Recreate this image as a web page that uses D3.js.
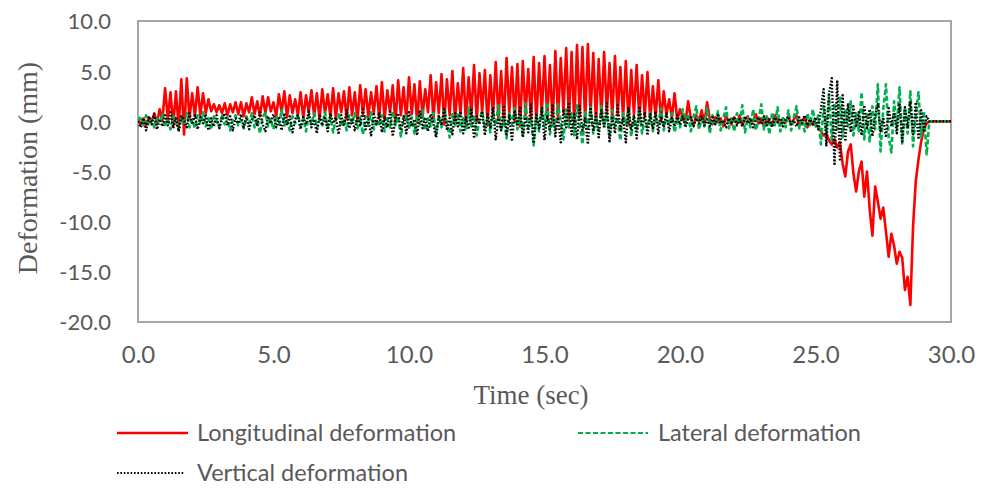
<!DOCTYPE html>
<html>
<head>
<meta charset="utf-8">
<script src="https://cdn.jsdelivr.net/npm/d3@7"></script>
<style>
  html, body { margin: 0; padding: 0; background: #ffffff; }
  svg { display: block; }
</style>
</head>
<body>
<svg id="chart" width="988" height="488"></svg>
<script>
// Sampling interval of the recorded signals (seconds)
const sampleStep = 0.1;

// Longitudinal deformation (mm), one value every 0.1 s from 0.0 to 30.0 s
const longitudinal = [
  0.2,-0.3,0.3,-0.4,0.4,0.0,0.8,-0.2,1.2,0.1,
  3.3,0.2,2.9,-0.5,3.0,-0.6,4.2,-1.3,4.3,0.3,
  2.8,0.5,3.4,0.6,2.8,0.8,2.2,1.0,1.7,0.9,
  1.6,0.8,1.8,0.6,1.7,0.9,1.9,0.7,1.9,0.5,
  1.8,0.9,2.4,0.7,2.0,0.5,2.5,0.8,2.4,1.0,
  1.9,0.5,2.7,0.9,3.0,0.4,2.6,0.8,2.2,0.6,
  2.9,0.3,2.6,0.9,3.1,0.5,2.8,0.2,3.2,0.8,
  2.7,0.4,3.3,0.3,2.8,0.9,3.0,0.2,3.4,0.6,
  2.9,0.1,3.6,0.7,3.2,0.4,2.9,0.8,3.5,0.3,
  3.9,0.2,3.1,0.9,3.6,-0.2,4.1,0.6,3.4,0.1,
  4.4,0.7,3.7,-0.1,4.0,0.5,3.2,0.9,4.6,0.2,
  3.9,0.8,4.7,-0.3,4.2,0.6,5.0,0.1,3.8,0.7,
  5.3,-0.2,4.4,0.6,5.6,0.0,4.8,0.9,5.1,-0.4,
  4.6,0.5,5.9,0.2,5.0,-0.3,6.3,0.8,5.4,0.0,
  5.7,-0.5,6.0,0.6,5.2,0.1,6.4,-0.2,5.8,0.7,
  6.5,0.3,5.6,-0.4,7.0,0.2,6.3,0.9,7.3,0.1,
  6.9,-0.3,7.6,0.5,7.4,0.0,7.7,0.6,6.8,-0.2,
  6.2,0.4,6.9,0.8,5.8,0.2,6.5,0.6,5.4,0.3,
  6.0,-0.3,5.1,0.7,5.6,0.1,4.6,0.5,4.9,0.2,
  3.5,0.4,4.1,0.0,3.0,0.6,2.2,0.3,2.8,0.1,
  1.2,0.4,-0.2,2.0,0.3,-0.4,0.6,0.0,1.1,-0.2,
  1.9,0.2,-0.3,0.4,-0.1,0.3,-0.5,0.5,0.0,-0.3,
  0.4,-0.2,0.6,-0.4,0.2,0.5,-0.3,0.1,0.7,-0.2,
  0.3,-0.5,0.4,0.0,-0.3,0.6,0.1,-0.4,0.3,-0.1,
  0.5,-0.3,0.2,0.6,-0.5,0.1,0.4,-0.6,0.2,-0.3,
  -0.3,-0.6,-1.0,-1.4,-1.2,-1.9,-2.3,-1.8,-2.6,-2.1,
  -4.2,-5.5,-3.0,-2.3,-5.2,-7.0,-5.0,-4.0,-7.5,-5.0,
  -8.8,-11.4,-6.5,-8.0,-9.7,-8.6,-11.0,-13.5,-11.2,-12.4,
  -14.2,-13.0,-13.6,-16.8,-15.5,-18.3,-10.5,-6.0,-3.8,-2.0,
  -0.8,-0.2,0.0,0.0,0.0,0.0,0.0,0.0,0.0,0.0,
  0.0
];

// Lateral deformation (mm)
const lateral = [
  0.0,0.5,-0.4,0.6,-0.3,0.2,-0.6,0.4,-0.2,0.7,
  -0.5,0.3,-0.8,0.5,0.1,-0.9,0.4,-0.3,0.8,-0.6,
  0.2,-0.7,0.6,-0.2,0.9,-0.5,0.3,-0.8,0.5,0.0,
  -0.6,0.7,-0.3,0.4,-0.9,0.2,0.6,-0.4,0.1,-0.7,
  0.5,-0.2,0.8,-0.6,0.3,-1.2,0.4,0.9,-0.5,0.2,
  -0.8,0.6,-0.3,1.1,-0.4,0.2,-0.9,0.5,-0.2,0.7,
  -0.5,0.3,-1.0,0.6,-0.3,0.8,-0.7,0.2,-0.4,0.9,
  -0.6,0.4,-1.1,0.2,0.7,-0.5,0.3,-0.9,0.6,-0.2,
  0.8,-0.7,0.4,-1.3,0.5,-0.3,0.9,-0.8,0.2,-0.5,
  0.6,-1.0,0.3,-0.6,1.0,-0.4,0.5,-1.5,0.2,0.7,
  -0.8,0.4,-1.2,0.6,-0.3,1.1,-0.9,0.3,-0.5,0.8,
  -1.3,0.5,-0.6,1.2,-0.2,-1.6,0.7,-0.4,0.9,-1.0,
  0.3,-0.8,1.4,-0.5,0.6,-1.4,0.2,1.0,-0.7,0.4,
  -1.1,0.8,-0.4,1.6,-0.9,0.3,-1.7,0.9,-0.3,1.3,
  -0.8,0.5,-1.5,1.8,-0.6,0.2,-2.4,0.7,-1.0,1.5,
  -0.5,1.9,-1.3,0.4,-0.8,1.7,-0.2,-1.8,1.2,-0.6,
  0.8,-1.4,1.6,-0.3,-2.3,0.9,-0.7,1.4,-1.2,0.3,
  -0.9,1.5,-0.4,0.7,-1.6,1.1,-0.5,0.4,-1.9,0.8,
  -0.3,1.2,-1.5,0.5,-0.8,1.0,-1.2,0.2,-0.6,0.9,
  -1.0,0.4,-0.3,1.3,-0.9,0.6,-0.4,0.8,-1.1,0.3,
  -0.6,1.2,-0.3,0.7,-1.0,0.4,1.5,-0.8,0.2,-0.5,
  1.3,-1.2,0.6,-0.4,1.0,-0.9,0.3,1.4,-0.7,0.5,
  -1.0,0.8,-0.3,1.6,-1.1,0.4,-0.6,1.2,-0.9,0.2,
  1.7,-0.8,0.5,-1.3,0.9,-0.4,1.4,-1.0,0.3,-0.6,
  1.1,-0.9,0.4,1.5,-0.7,0.2,-1.0,0.8,-0.4,1.2,
  -0.5,0.6,-2.3,1.5,-1.2,2.7,-2.0,1.8,-0.8,2.5,
  -1.6,1.2,-0.5,2.0,-1.4,0.8,-1.0,2.9,-1.8,0.9,
  -2.0,1.5,-0.8,3.7,-3.0,1.2,3.7,-1.6,-3.1,2.0,
  -0.7,3.4,-2.2,1.4,-1.2,3.0,-2.5,0.7,2.9,-1.5,
  1.0,-3.3,0.0,0.0,0.0,0.0,0.0,0.0,0.0,0.0,
  0.0
];

// Vertical deformation (mm)
const vertical = [
  0.0,-0.6,0.3,-0.9,0.5,-0.3,0.7,-0.8,0.2,-0.5,
  0.6,-0.4,0.9,-0.7,0.3,-1.0,0.5,0.1,-0.6,0.8,
  -0.3,0.6,-0.8,0.4,-0.2,0.7,-0.9,0.3,-0.5,0.6,
  -0.7,0.2,0.8,-0.4,0.5,-0.9,0.3,-0.2,0.7,-0.6,
  0.4,-0.8,0.2,0.6,-0.5,0.9,-0.3,-1.0,0.5,-0.2,
  0.7,-0.6,0.3,-0.9,0.8,-0.4,0.5,-1.1,0.2,0.6,
  -0.8,0.4,-0.3,1.0,-0.6,0.2,-1.2,0.7,-0.4,0.5,
  -1.0,0.8,-0.2,0.4,-1.3,0.6,-0.5,1.1,-0.7,0.3,
  -0.9,0.5,-0.4,1.2,-0.8,0.2,-1.4,0.7,-0.3,0.9,
  -1.1,0.4,-0.6,1.0,-1.5,0.3,0.8,-0.9,0.5,-1.2,
  0.9,-0.5,0.2,-1.4,1.1,-0.7,0.4,-1.0,0.7,-0.3,
  -1.6,0.6,-0.4,1.2,-0.9,0.3,-1.3,0.8,-0.5,1.0,
  -1.2,0.4,-0.8,1.3,-1.7,0.5,-0.3,1.0,-1.4,0.7,
  -0.6,1.4,-1.8,0.3,-0.9,1.6,-1.3,0.6,-2.0,1.1,
  -0.5,1.5,-1.6,0.4,-1.1,1.8,-2.2,0.8,-0.7,1.3,
  -1.9,0.6,-0.8,1.7,-1.5,0.4,-2.1,1.2,-0.6,1.9,
  -1.3,0.7,-1.8,1.5,-0.9,0.3,-2.3,1.4,-1.0,0.8,
  -1.6,1.1,-0.7,1.8,-2.0,0.5,-1.2,1.6,-0.8,0.4,
  -2.1,1.3,-0.9,0.6,-1.7,1.5,-0.5,0.9,-1.4,0.7,
  -0.8,1.0,-1.2,0.5,-0.6,0.8,-1.0,0.3,-0.5,0.6,
  -0.3,0.5,-0.6,0.2,0.4,-0.5,0.3,-0.2,0.5,-0.4,
  0.2,-0.5,0.4,-0.3,0.6,-0.2,0.1,-0.6,0.3,-0.1,
  0.4,-0.4,0.2,-0.5,0.5,-0.2,0.3,-0.6,0.1,0.4,
  -0.3,0.5,-0.4,0.2,-0.6,0.4,-0.1,0.3,-0.5,0.2,
  0.5,-0.3,0.1,-0.5,0.4,-0.2,0.6,-0.4,0.2,-0.3,
  0.4,-0.8,1.2,3.2,-2.5,2.8,4.3,-4.4,4.1,-3.8,
  2.6,-2.0,1.8,-1.1,1.5,-0.6,0.9,-1.4,1.6,-0.8,
  1.2,-1.5,0.6,1.7,-1.0,0.4,-1.6,1.3,-0.5,0.9,
  -1.2,1.8,-2.0,1.4,-0.7,2.0,-1.3,1.9,-1.8,1.1,
  -0.9,0.5,0.0,0.0,0.0,0.0,0.0,0.0,0.0,0.0,
  0.0
];

const xTicks = [0, 5, 10, 15, 20, 25, 30];
const yTicks = [10, 5, 0, -5, -10, -15, -20];

const seriesNames = ["Longitudinal deformation", "Lateral deformation", "Vertical deformation"];
const seriesColors = ["#ff0000", "#00b050", "#000000"];

const svg = d3.select("#chart");

const plot = { left: 138, right: 951, top: 21, bottom: 322 };

const x = d3.scaleLinear().domain([0, 30]).range([plot.left, plot.right]);
const y = d3.scaleLinear().domain([-20, 10]).range([plot.bottom, plot.top]);

const sansFont = "Lato, 'Open Sans', sans-serif";
const serifFont = "'Liberation Serif', 'DejaVu Serif', serif";
const labelGray = "#595959";

// One decimal place, with a plain hyphen for negatives
const fmt = d => d3.format(".1f")(d).replace("\u2212", "-");

// Plot area frame
svg.append("rect")
  .attr("x", plot.left)
  .attr("y", plot.top)
  .attr("width", plot.right - plot.left)
  .attr("height", plot.bottom - plot.top)
  .attr("fill", "none")
  .attr("stroke", "#a6a6a6")
  .attr("stroke-width", 2);

// Axes: labels only, no tick marks or domain lines
const yAxis = d3.axisLeft(y).tickValues(yTicks).tickSize(0).tickPadding(0).tickFormat(fmt);
const gy = svg.append("g").attr("transform", "translate(111,0)").call(yAxis);
gy.select(".domain").remove();
gy.selectAll("text")
  .attr("font-family", sansFont)
  .attr("font-size", 22)
  .attr("fill", labelGray)
  .attr("dy", "0.36em");

const xAxis = d3.axisBottom(x).tickValues(xTicks).tickSize(0).tickPadding(0).tickFormat(fmt);
const gx = svg.append("g").attr("transform", "translate(0,346)").call(xAxis);
gx.select(".domain").remove();
gx.selectAll("text")
  .attr("font-family", sansFont)
  .attr("font-size", 24)
  .attr("fill", labelGray)
  .attr("dy", "0.7em");

// Axis titles
svg.append("text")
  .attr("transform", "translate(37,168) rotate(-90)")
  .attr("text-anchor", "middle")
  .attr("font-family", serifFont)
  .attr("font-size", 28)
  .attr("fill", labelGray)
  .text("Deformation (mm)");

svg.append("text")
  .attr("x", 531)
  .attr("y", 404)
  .attr("text-anchor", "middle")
  .attr("font-family", serifFont)
  .attr("font-size", 27)
  .attr("fill", labelGray)
  .text("Time (sec)");

// Series lines
const line = d3.line()
  .x((d, i) => x(i * sampleStep))
  .y(d => y(d));

svg.append("clipPath").attr("id", "plot-clip")
  .append("rect")
  .attr("x", plot.left).attr("y", plot.top)
  .attr("width", plot.right - plot.left).attr("height", plot.bottom - plot.top);

const lines = svg.append("g").attr("clip-path", "url(#plot-clip)");

const seriesStyles = [
  { data: longitudinal, width: 2.6, dash: null },
  { data: lateral, width: 2.6, dash: "5,2.5" },
  { data: vertical, width: 2.4, dash: "1.6,1.8" }
];

seriesStyles.forEach((s, i) => {
  lines.append("path")
    .datum(s.data)
    .attr("d", line)
    .attr("fill", "none")
    .attr("stroke", seriesColors[i])
    .attr("stroke-width", s.width)
    .attr("stroke-linejoin", "round")
    .attr("stroke-dasharray", s.dash);
});

// Legend
const legendItems = [
  { x: 117, y: 433, lineLen: 71, style: seriesStyles[0] },
  { x: 578, y: 433, lineLen: 70, style: seriesStyles[1] },
  { x: 117, y: 473, lineLen: 67, style: seriesStyles[2] }
];

legendItems.forEach((item, i) => {
  const g = svg.append("g");
  g.append("line")
    .attr("x1", item.x).attr("x2", item.x + item.lineLen)
    .attr("y1", item.y).attr("y2", item.y)
    .attr("stroke", seriesColors[i])
    .attr("stroke-width", i === 0 ? 2.6 : 2.2)
    .attr("stroke-dasharray", item.style.dash);
  g.append("text")
    .attr("x", item.x + 80)
    .attr("y", item.y)
    .attr("dy", "0.36em")
    .attr("font-family", sansFont)
    .attr("font-size", 23.5)
    .attr("fill", labelGray)
    .text(seriesNames[i]);
});
</script>
</body>
</html>
